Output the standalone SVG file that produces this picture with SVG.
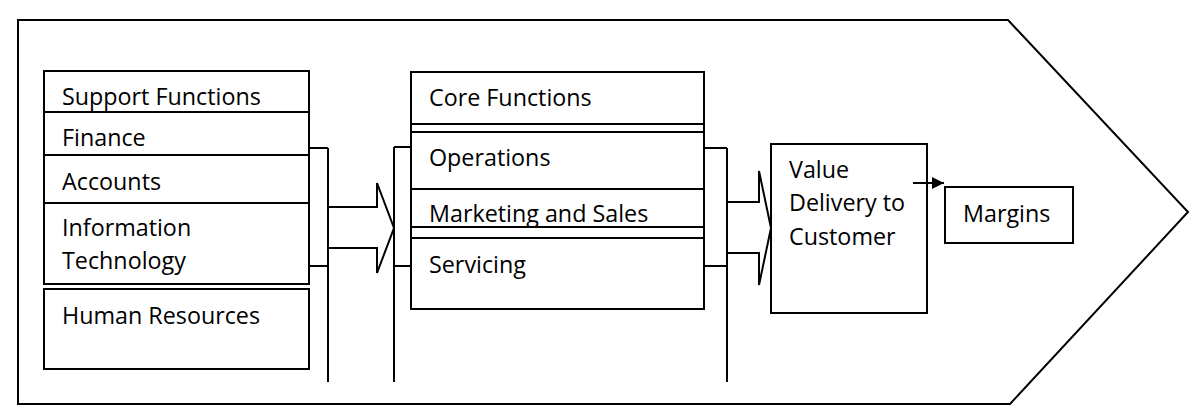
<svg xmlns="http://www.w3.org/2000/svg" width="1200" height="419" viewBox="0 0 1200 419">
<defs>
<style>
.box{fill:#fff;stroke:#000;stroke-width:2}
.ln{fill:none;stroke:#000;stroke-width:2}
.t{font-family:"Open Sans","Liberation Sans",sans-serif;font-size:23.3px;fill:#000}
</style>
<marker id="ah" viewBox="0 0 12 12" refX="12" refY="6" markerWidth="12" markerHeight="12" markerUnits="userSpaceOnUse" orient="auto">
<path d="M0,0 L12,6 L0,12 Z" fill="#000"/>
</marker>
</defs>
<rect width="1200" height="419" fill="#fff"/>
<g id="frame">
<path class="ln" d="M18,20 L1008,20 L1188,212 L1010,404 L18,404 Z"/>
</g>
<g id="support">
<rect class="box" x="44" y="71" width="265" height="213"/>
<line class="ln" x1="44" y1="112" x2="309" y2="112"/>
<line class="ln" x1="44" y1="155" x2="309" y2="155"/>
<line class="ln" x1="44" y1="203" x2="309" y2="203"/>
<text class="t" x="62" y="105">Support Functions</text>
<text class="t" x="62" y="146">Finance</text>
<text class="t" x="62" y="190">Accounts</text>
<text class="t" x="62" y="236">Information</text>
<text class="t" x="62" y="269">Technology</text>
</g>
<g id="hr">
<rect class="box" x="44" y="289" width="265" height="80"/>
<text class="t" x="62" y="324">Human Resources</text>
</g>
<g id="core">
<rect class="box" x="411" y="72" width="293" height="237"/>
<line class="ln" x1="411" y1="124" x2="704" y2="124"/>
<line class="ln" x1="411" y1="132" x2="704" y2="132"/>
<line class="ln" x1="411" y1="189" x2="704" y2="189"/>
<line class="ln" x1="411" y1="227" x2="704" y2="227"/>
<line class="ln" x1="411" y1="238" x2="704" y2="238"/>
<text class="t" x="429" y="106">Core Functions</text>
<text class="t" x="429" y="166">Operations</text>
<text class="t" x="429" y="222">Marketing and Sales</text>
<text class="t" x="429" y="273">Servicing</text>
</g>
<g id="value">
<rect class="box" x="771" y="144" width="156" height="169"/>
<text class="t" x="789" y="178">Value</text>
<text class="t" x="789" y="211">Delivery to</text>
<text class="t" x="789" y="245">Customer</text>
</g>
<g id="margins">
<rect class="box" x="945" y="187" width="128" height="56"/>
<text class="t" x="963" y="222">Margins</text>
</g>
<g id="connectors">
<path class="ln" d="M309,148 H328 M309,266 H328 M328,148 V382"/>
<path class="ln" d="M328,207 H377 V183 L394,228 L377,273 V248 H328"/>
<path class="ln" d="M411,147 H394 M411,266 H394 M394,147 V382"/>
<path class="ln" d="M704,148 H727 M704,266 H727 M727,148 V382"/>
<path class="ln" d="M727,202 H759 V171 L771,228 L759,285 V253 H727"/>
<line class="ln" x1="913" y1="183" x2="944" y2="183" marker-end="url(#ah)"/>
</g>
</svg>
